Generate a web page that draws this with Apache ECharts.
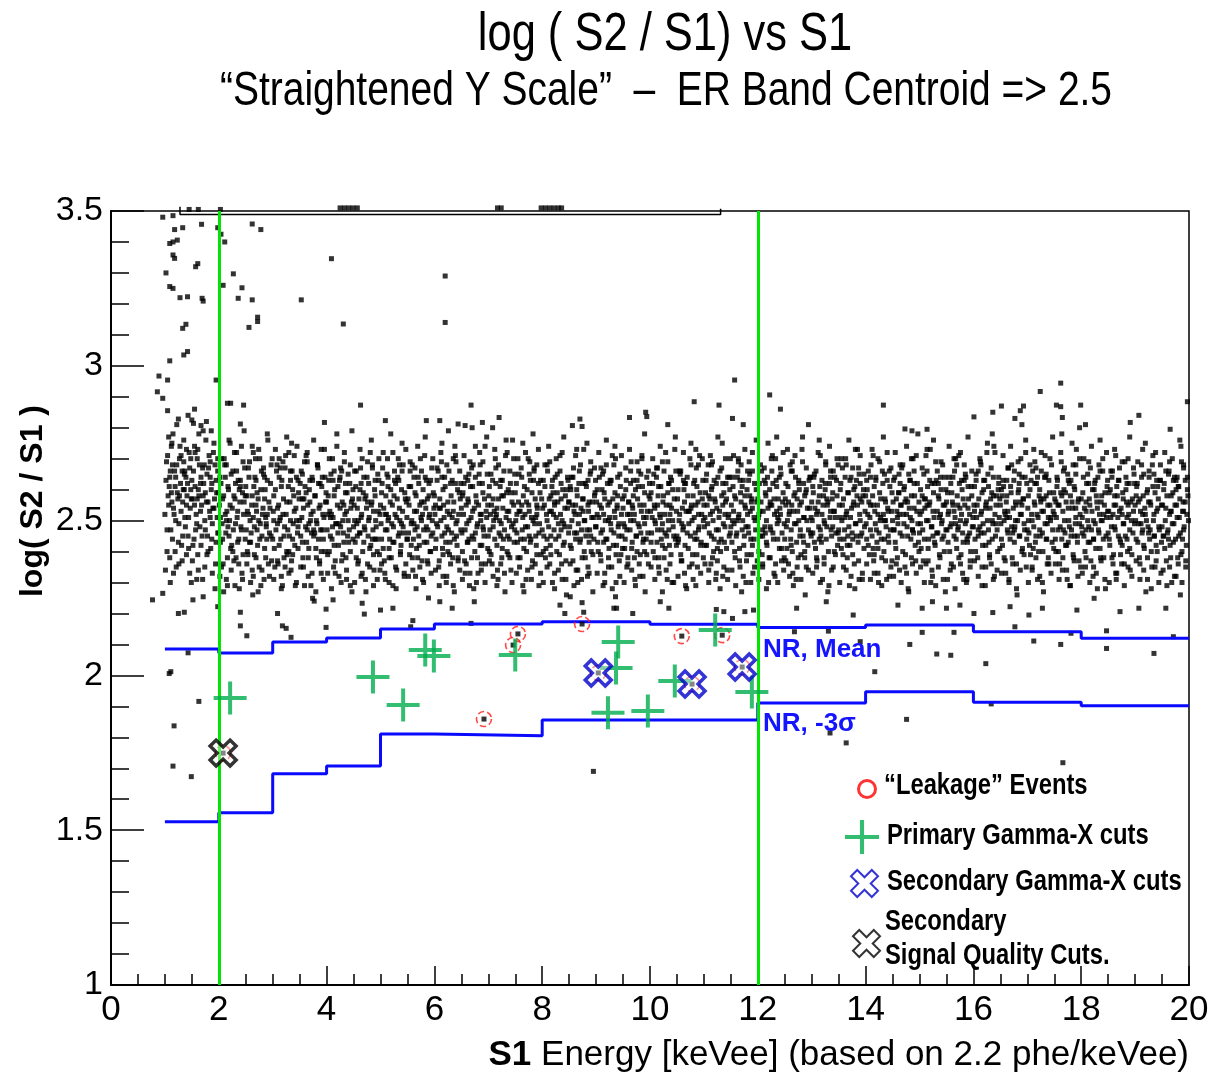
<!DOCTYPE html>
<html><head><meta charset="utf-8">
<script src="https://cdn.jsdelivr.net/npm/echarts@6/dist/echarts.min.js"></script>
<style>html,body{margin:0;padding:0;background:#fff}#c{width:1224px;height:1076px}</style>
</head><body><div id="c"></div>
<script>
const SANS = "'Liberation Sans',Arial,sans-serif";
const NARROW_SCALE = 0.82; // Arial Narrow look, made from Liberation Sans

// ---- axes ----
const xRange = [0, 20, 2];
const yRange = [1, 3.5, 0.5];
const cutX = [2, 12];

// ---- NR band step lines (bin edges + bin values) ----
const nrEdges = [1, 2, 3, 4, 5, 6, 8, 10, 12, 14, 16, 18, 20];
const nrMean = [2.085, 2.072, 2.108, 2.121, 2.150, 2.166, 2.173, 2.165, 2.155, 2.163, 2.141, 2.120];
const nrMinus3 = [1.527, 1.556, 1.682, 1.707, 1.811, 1.805, 1.856, 1.856, 1.911, 1.947, 1.913, 1.902];

// ---- special events ----
const leakage = [[6.92,1.859],[7.55,2.134],[7.46,2.098],[8.74,2.166],[10.59,2.127],[11.34,2.130],[9.04,2.008],[10.78,1.972],[11.71,2.027],[2.08,1.749]];
const primaryGX = [[2.21,1.927],[4.86,1.995],[5.42,1.904],[5.83,2.082],[5.99,2.063],[7.50,2.066],[9.41,2.108],[9.37,2.024],[9.22,1.879],[9.96,1.885],[10.46,1.982],[11.21,2.147],[11.89,1.946]];
const secondaryGX = [[9.04,2.008],[10.78,1.972],[11.71,2.027]];
const secondarySQ = [[2.08,1.749]];

// ---- legend labels ----
const legendNames = ['“Leakage” Events', 'Primary Gamma-X cuts', 'Secondary Gamma-X cuts', 'Secondary\nSignal Quality Cuts.'];

// ---- overflow at the top edge ----
const topEdge = [[1.28,3.514],[1.28,3.489],[11.31,3.489],[11.31,3.507]];
const topDots = [[1.45,3.505],[1.62,3.505],[2.03,3.505],[4.25,3.51],[4.33,3.51],[4.41,3.51],[4.49,3.51],[4.57,3.51],[7.17,3.51],[7.24,3.51],[7.98,3.51],[8.06,3.51],[8.14,3.51],[8.22,3.51],[8.30,3.51],[8.36,3.51]];

// ---- ER band events (read approximately), part 1 ----
const bandDots = [
[1.02,2.63],[1.04,2.47],[1.05,2.71],[1.07,2.55],[1.09,2.38],[1.10,2.66],[1.12,2.59],[1.14,2.44],[1.15,2.78],[1.17,2.52],[1.19,2.61],[1.21,2.35],[1.22,2.68],[1.24,2.57],[1.26,2.49],[1.28,2.74],[1.29,2.62],[1.31,2.42],[1.33,2.56],[1.35,2.69],[1.37,2.51],[1.39,2.64],[1.41,2.58],[1.43,2.45],[1.45,2.72],[1.47,2.54],[1.48,2.60],[1.06,2.58],[1.18,2.66],[1.36,2.60],
[1.51,2.57],[1.53,2.66],[1.54,2.44],[1.56,2.61],[1.58,2.52],[1.60,2.70],[1.61,2.39],[1.63,2.58],[1.65,2.48],[1.67,2.64],[1.68,2.55],[1.70,2.31],[1.72,2.62],[1.74,2.50],[1.76,2.76],[1.77,2.56],[1.79,2.45],[1.81,2.67],[1.83,2.53],[1.85,2.41],[1.86,2.60],[1.88,2.49],[1.90,2.72],[1.92,2.57],[1.94,2.36],[1.95,2.63],[1.97,2.51],[1.99,2.59],[1.57,2.47],[1.73,2.68],[1.89,2.54],
[2.01,2.55],[2.03,2.43],[2.04,2.62],[2.06,2.49],[2.08,2.36],[2.09,2.58],[2.11,2.68],[2.13,2.46],[2.15,2.53],[2.16,2.29],[2.18,2.60],[2.20,2.50],[2.22,2.41],[2.23,2.65],[2.25,2.54],[2.27,2.47],[2.29,2.72],[2.30,2.57],[2.32,2.38],[2.34,2.51],[2.36,2.63],[2.37,2.44],[2.39,2.56],[2.41,2.48],[2.43,2.33],[2.44,2.59],[2.46,2.52],[2.48,2.67],[2.12,2.52],[2.26,2.40],[2.40,2.61],
[2.51,2.47],[2.52,2.58],[2.54,2.39],[2.56,2.64],[2.58,2.50],[2.59,2.43],[2.61,2.55],[2.63,2.26],[2.65,2.61],[2.66,2.48],[2.68,2.70],[2.70,2.53],[2.72,2.42],[2.73,2.57],[2.75,2.35],[2.77,2.49],[2.79,2.66],[2.80,2.45],[2.82,2.54],[2.84,2.31],[2.86,2.60],[2.87,2.51],[2.89,2.44],[2.91,2.76],[2.93,2.56],[2.94,2.46],[2.96,2.62],[2.98,2.37],[2.55,2.52],[2.71,2.59],[2.88,2.49],
[3.01,2.53],[3.03,2.41],[3.05,2.60],[3.06,2.47],[3.08,2.68],[3.10,2.36],[3.11,2.55],[3.13,2.50],[3.15,2.44],[3.17,2.63],[3.18,2.29],[3.20,2.57],[3.22,2.48],[3.24,2.71],[3.25,2.52],[3.27,2.39],[3.29,2.61],[3.31,2.45],[3.32,2.56],[3.34,2.34],[3.36,2.66],[3.38,2.49],[3.39,2.58],[3.41,2.42],[3.43,2.54],[3.45,2.74],[3.46,2.46],[3.48,2.59],[3.14,2.51],[3.30,2.40],[3.44,2.50],
[3.51,2.62],[3.52,2.45],[3.54,2.51],[3.56,2.38],[3.58,2.57],[3.59,2.69],[3.61,2.48],[3.63,2.43],[3.65,2.55],[3.66,2.32],[3.68,2.60],[3.70,2.50],[3.72,2.46],[3.73,2.64],[3.75,2.53],[3.77,2.24],[3.79,2.58],[3.80,2.41],[3.82,2.49],[3.84,2.67],[3.86,2.54],[3.87,2.37],[3.89,2.47],[3.91,2.61],[3.93,2.52],[3.94,2.44],[3.96,2.73],[3.98,2.56],[3.62,2.59],[3.76,2.47],[3.90,2.40],
[4.01,2.47],[4.03,2.58],[4.05,2.40],[4.06,2.53],[4.08,2.65],[4.10,2.44],[4.12,2.51],[4.13,2.35],[4.15,2.60],[4.17,2.49],[4.19,2.78],[4.20,2.55],[4.22,2.42],[4.24,2.63],[4.26,2.48],[4.27,2.30],[4.29,2.56],[4.31,2.46],[4.33,2.69],[4.34,2.52],[4.36,2.38],[4.38,2.59],[4.40,2.50],[4.41,2.43],[4.43,2.62],[4.45,2.54],[4.47,2.27],[4.48,2.57],[4.09,2.52],[4.23,2.49],[4.39,2.45],
[4.51,2.55],[4.53,2.43],[4.54,2.61],[4.56,2.49],[4.58,2.36],[4.60,2.57],[4.61,2.46],[4.63,2.67],[4.65,2.52],[4.67,2.40],[4.68,2.59],[4.70,2.48],[4.72,2.31],[4.74,2.54],[4.75,2.64],[4.77,2.45],[4.79,2.51],[4.81,2.72],[4.82,2.42],[4.84,2.56],[4.86,2.47],[4.88,2.34],[4.89,2.60],[4.91,2.50],[4.93,2.44],[4.95,2.65],[4.96,2.53],[4.98,2.39],[4.59,2.50],[4.73,2.58],[4.87,2.53],
[5.01,2.49],[5.03,2.62],[5.05,2.41],[5.06,2.54],[5.08,2.33],[5.10,2.58],[5.12,2.47],[5.13,2.70],[5.15,2.51],[5.17,2.44],[5.19,2.60],[5.20,2.38],[5.22,2.55],[5.24,2.48],[5.26,2.66],[5.27,2.52],[5.29,2.28],[5.31,2.57],[5.33,2.45],[5.34,2.63],[5.36,2.50],[5.38,2.42],[5.40,2.75],[5.41,2.53],[5.43,2.46],[5.45,2.59],[5.47,2.36],[5.48,2.56],[5.11,2.52],[5.25,2.43],[5.39,2.49],
[5.51,2.57],[5.52,2.46],[5.54,2.39],[5.56,2.61],[5.58,2.50],[5.59,2.68],[5.61,2.44],[5.63,2.53],[5.65,2.32],[5.66,2.58],[5.68,2.48],[5.70,2.64],[5.72,2.42],[5.73,2.55],[5.75,2.51],[5.77,2.37],[5.79,2.60],[5.80,2.47],[5.82,2.71],[5.84,2.54],[5.86,2.43],[5.87,2.57],[5.89,2.25],[5.91,2.52],[5.93,2.63],[5.94,2.45],[5.96,2.50],[5.98,2.59],[5.62,2.49],[5.76,2.56],[5.92,2.40],
[6.01,2.52],[6.03,2.44],[6.05,2.63],[6.06,2.48],[6.08,2.35],[6.10,2.57],[6.12,2.50],[6.13,2.69],[6.15,2.41],[6.17,2.55],[6.19,2.46],[6.20,2.61],[6.22,2.30],[6.24,2.53],[6.26,2.47],[6.27,2.66],[6.29,2.43],[6.31,2.58],[6.33,2.51],[6.34,2.38],[6.36,2.56],[6.38,2.74],[6.40,2.49],[6.41,2.45],[6.43,2.60],[6.45,2.52],[6.47,2.34],[6.48,2.57],[6.11,2.54],[6.25,2.40],[6.39,2.62],
[6.51,2.46],[6.53,2.59],[6.54,2.52],[6.56,2.37],[6.58,2.64],[6.60,2.49],[6.61,2.43],[6.63,2.56],[6.65,2.29],[6.67,2.61],[6.68,2.51],[6.70,2.45],[6.72,2.68],[6.74,2.54],[6.75,2.40],[6.77,2.58],[6.79,2.48],[6.81,2.33],[6.82,2.55],[6.84,2.72],[6.86,2.50],[6.88,2.42],[6.89,2.62],[6.91,2.47],[6.93,2.57],[6.95,2.36],[6.96,2.53],[6.98,2.65],[6.59,2.55],[6.73,2.44],[6.87,2.52],
[7.01,2.58],[7.03,2.47],[7.05,2.39],[7.06,2.55],[7.08,2.63],[7.10,2.50],[7.12,2.44],[7.13,2.70],[7.15,2.52],[7.17,2.34],[7.19,2.57],[7.20,2.46],[7.22,2.61],[7.24,2.49],[7.26,2.41],[7.27,2.54],[7.29,2.66],[7.31,2.27],[7.33,2.51],[7.34,2.59],[7.36,2.45],[7.38,2.53],[7.40,2.38],[7.41,2.62],[7.43,2.48],[7.45,2.76],[7.47,2.55],[7.48,2.43],[7.11,2.53],[7.25,2.58],[7.39,2.50],
[7.51,2.50],[7.52,2.62],[7.54,2.43],[7.56,2.56],[7.58,2.35],[7.59,2.53],[7.61,2.67],[7.63,2.47],[7.65,2.58],[7.66,2.41],[7.68,2.52],[7.70,2.31],[7.72,2.60],[7.73,2.48],[7.75,2.55],[7.77,2.69],[7.79,2.44],[7.80,2.51],[7.82,2.37],[7.84,2.63],[7.86,2.49],[7.87,2.57],[7.89,2.42],[7.91,2.54],[7.93,2.73],[7.94,2.46],[7.96,2.59],[7.98,2.39],[7.62,2.55],[7.76,2.45],[7.90,2.52],
[8.01,2.54],[8.03,2.45],[8.05,2.61],[8.06,2.38],[8.08,2.52],[8.10,2.66],[8.12,2.48],[8.13,2.57],[8.15,2.42],[8.17,2.53],[8.19,2.30],[8.20,2.59],[8.22,2.47],[8.24,2.64],[8.26,2.51],[8.27,2.40],[8.29,2.56],[8.31,2.45],[8.33,2.71],[8.34,2.52],[8.36,2.36],[8.38,2.60],[8.40,2.49],[8.41,2.43],[8.43,2.58],[8.45,2.26],[8.47,2.54],[8.48,2.63],[8.09,2.44],[8.23,2.55],[8.37,2.50],
[8.51,2.48],[8.53,2.60],[8.54,2.41],[8.56,2.55],[8.58,2.67],[8.60,2.46],[8.61,2.52],[8.63,2.34],[8.65,2.58],[8.67,2.49],[8.68,2.62],[8.70,2.43],[8.72,2.54],[8.74,2.38],[8.75,2.57],[8.77,2.73],[8.79,2.50],[8.81,2.45],[8.82,2.61],[8.84,2.32],[8.86,2.53],[8.88,2.47],[8.89,2.65],[8.91,2.40],[8.93,2.56],[8.95,2.51],[8.96,2.44],[8.98,2.59],[8.59,2.53],[8.73,2.47],[8.87,2.56],
[9.01,2.56],[9.03,2.43],[9.05,2.51],[9.06,2.64],[9.08,2.39],[9.10,2.54],[9.12,2.47],[9.13,2.29],[9.15,2.59],[9.17,2.50],[9.19,2.68],[9.20,2.44],[9.22,2.55],[9.24,2.41],[9.26,2.62],[9.27,2.49],[9.29,2.35],[9.31,2.57],[9.33,2.46],[9.34,2.53],[9.36,2.70],[9.38,2.42],[9.40,2.58],[9.41,2.48],[9.43,2.37],[9.45,2.61],[9.47,2.52],[9.48,2.45],[9.11,2.60],[9.25,2.51],[9.39,2.55],
[9.51,2.49],[9.52,2.58],[9.54,2.44],[9.56,2.63],[9.58,2.52],[9.59,2.36],[9.61,2.56],[9.63,2.47],[9.65,2.69],[9.66,2.41],[9.68,2.54],[9.70,2.50],[9.72,2.31],[9.73,2.60],[9.75,2.45],[9.77,2.57],[9.79,2.66],[9.80,2.48],[9.82,2.39],[9.84,2.53],[9.86,2.61],[9.87,2.43],[9.89,2.55],[9.91,2.27],[9.93,2.51],[9.94,2.64],[9.96,2.46],[9.98,2.58],[9.62,2.52],[9.76,2.40],[9.90,2.49],
[10.01,2.53],[10.03,2.46],[10.05,2.62],[10.06,2.40],[10.08,2.55],[10.10,2.49],[10.12,2.67],[10.13,2.43],[10.15,2.58],[10.17,2.33],[10.19,2.51],[10.20,2.61],[10.22,2.47],[10.24,2.56],[10.26,2.38],[10.27,2.52],[10.29,2.72],[10.31,2.45],[10.33,2.59],[10.34,2.50],[10.36,2.42],[10.38,2.64],[10.40,2.54],[10.41,2.30],[10.43,2.48],[10.45,2.57],[10.47,2.44],[10.48,2.66],[10.09,2.50],[10.23,2.42],[10.37,2.55],
[10.51,2.57],[10.53,2.44],[10.54,2.50],[10.56,2.65],[10.58,2.37],[10.60,2.54],[10.61,2.47],[10.63,2.60],[10.65,2.42],[10.67,2.53],[10.68,2.28],[10.70,2.58],[10.72,2.49],[10.74,2.70],[10.75,2.45],[10.77,2.55],[10.79,2.39],[10.81,2.62],[10.82,2.51],[10.84,2.46],[10.86,2.67],[10.88,2.35],[10.89,2.56],[10.91,2.48],[10.93,2.59],[10.95,2.43],[10.96,2.52],[10.98,2.63],[10.59,2.49],[10.73,2.53],[10.87,2.44],
[11.01,2.48],[11.03,2.59],[11.05,2.42],[11.06,2.55],[11.08,2.68],[11.10,2.46],[11.12,2.52],[11.13,2.36],[11.15,2.61],[11.17,2.50],[11.19,2.44],[11.20,2.57],[11.22,2.31],[11.24,2.54],[11.26,2.64],[11.27,2.47],[11.29,2.53],[11.31,2.40],[11.33,2.58],[11.34,2.75],[11.36,2.49],[11.38,2.43],[11.40,2.56],[11.41,2.62],[11.43,2.34],[11.45,2.51],[11.47,2.45],[11.48,2.60],[11.11,2.57],[11.25,2.41],[11.39,2.52],
[11.51,2.55],[11.52,2.43],[11.54,2.61],[11.56,2.49],[11.58,2.38],[11.59,2.57],[11.61,2.46],[11.63,2.66],[11.65,2.52],[11.66,2.41],[11.68,2.59],[11.70,2.27],[11.72,2.50],[11.73,2.63],[11.75,2.45],[11.77,2.54],[11.79,2.37],[11.80,2.60],[11.82,2.48],[11.84,2.69],[11.86,2.53],[11.87,2.44],[11.89,2.57],[11.91,2.33],[11.93,2.51],[11.94,2.62],[11.96,2.47],[11.98,2.56],[11.62,2.50],[11.76,2.58],[11.90,2.42],
[12.01,2.51],[12.03,2.62],[12.05,2.45],[12.06,2.56],[12.08,2.39],[12.10,2.53],[12.12,2.67],[12.13,2.48],[12.15,2.58],[12.17,2.42],[12.19,2.54],[12.20,2.30],[12.22,2.60],[12.24,2.47],[12.26,2.55],[12.27,2.71],[12.29,2.44],[12.31,2.52],[12.33,2.36],[12.34,2.63],[12.36,2.49],[12.38,2.57],[12.40,2.41],[12.41,2.54],[12.43,2.65],[12.45,2.46],[12.47,2.59],[12.48,2.34],[12.09,2.47],[12.23,2.56],[12.37,2.51],
[12.51,2.57],[12.53,2.48],[12.54,2.41],[12.56,2.61],[12.58,2.52],[12.60,2.68],[12.61,2.44],[12.63,2.55],[12.65,2.33],[12.67,2.58],[12.68,2.49],[12.70,2.64],[12.72,2.43],[12.74,2.53],[12.75,2.38],[12.77,2.60],[12.79,2.47],[12.81,2.56],[12.82,2.73],[12.84,2.45],[12.86,2.51],[12.88,2.26],[12.89,2.59],[12.91,2.50],[12.93,2.42],[12.95,2.63],[12.96,2.54],[12.98,2.46],[12.59,2.53],[12.73,2.57],[12.87,2.40],
[13.01,2.50],[13.03,2.59],[13.05,2.43],[13.06,2.54],[13.08,2.66],[13.10,2.37],[13.12,2.56],[13.13,2.48],[13.15,2.61],[13.17,2.45],[13.19,2.52],[13.20,2.31],[13.22,2.58],[13.24,2.49],[13.26,2.69],[13.27,2.44],[13.29,2.55],[13.31,2.40],[13.33,2.62],[13.34,2.51],[13.36,2.47],[13.38,2.57],[13.40,2.35],[13.41,2.53],[13.43,2.64],[13.45,2.46],[13.47,2.58],[13.48,2.42],[13.11,2.53],[13.25,2.60],[13.39,2.48],
[13.51,2.55],[13.52,2.44],[13.54,2.62],[13.56,2.50],[13.58,2.39],[13.59,2.57],[13.61,2.47],[13.63,2.70],[13.65,2.53],[13.66,2.42],[13.68,2.59],[13.70,2.29],[13.72,2.51],[13.73,2.64],[13.75,2.46],[13.77,2.55],[13.79,2.36],[13.80,2.61],[13.82,2.49],[13.84,2.58],[13.86,2.43],[13.87,2.67],[13.89,2.52],[13.91,2.45],[13.93,2.56],[13.94,2.33],[13.96,2.60],[13.98,2.48],[13.62,2.51],[13.76,2.44],[13.90,2.57],
[14.01,2.49],[14.03,2.60],[14.05,2.42],[14.06,2.56],[14.08,2.51],[14.10,2.68],[14.12,2.45],[14.13,2.58],[14.15,2.37],[14.17,2.53],[14.19,2.63],[14.20,2.47],[14.22,2.55],[14.24,2.30],[14.26,2.59],[14.27,2.50],[14.29,2.44],[14.31,2.66],[14.33,2.52],[14.34,2.40],[14.36,2.57],[14.38,2.48],[14.40,2.72],[14.41,2.54],[14.43,2.43],[14.45,2.61],[14.47,2.35],[14.48,2.53],[14.09,2.55],[14.23,2.41],[14.37,2.50],
[14.51,2.56],[14.53,2.47],[14.54,2.64],[14.56,2.41],[14.58,2.53],[14.60,2.49],[14.61,2.59],[14.63,2.34],[14.65,2.55],[14.67,2.67],[14.68,2.45],[14.70,2.52],[14.72,2.61],[14.74,2.39],[14.75,2.57],[14.77,2.48],[14.79,2.28],[14.81,2.54],[14.82,2.63],[14.84,2.44],[14.86,2.50],[14.88,2.70],[14.89,2.46],[14.91,2.58],[14.93,2.37],[14.95,2.53],[14.96,2.62],[14.98,2.43],[14.59,2.51],[14.73,2.56],[14.87,2.47],
[15.01,2.52],[15.03,2.41],[15.05,2.58],[15.06,2.47],[15.08,2.65],[15.10,2.54],[15.12,2.36],[15.13,2.50],[15.15,2.61],[15.17,2.44],[15.19,2.56],[15.20,2.73],[15.22,2.48],[15.24,2.32],[15.26,2.59],[15.27,2.51],[15.29,2.42],[15.31,2.63],[15.33,2.53],[15.34,2.46],[15.36,2.57],[15.38,2.38],[15.40,2.60],[15.41,2.49],[15.43,2.68],[15.45,2.45],[15.47,2.55],[15.48,2.27],[15.11,2.57],[15.25,2.45],[15.39,2.52],
[15.51,2.47],[15.52,2.59],[15.54,2.53],[15.56,2.40],[15.58,2.62],[15.59,2.49],[15.61,2.56],[15.63,2.35],[15.65,2.66],[15.66,2.51],[15.68,2.44],[15.70,2.58],[15.72,2.48],[15.73,2.71],[15.75,2.54],[15.77,2.39],[15.79,2.60],[15.80,2.46],[15.82,2.31],[15.84,2.55],[15.86,2.64],[15.87,2.50],[15.89,2.43],[15.91,2.57],[15.93,2.52],[15.94,2.37],[15.96,2.61],[15.98,2.48],[15.62,2.55],[15.76,2.50],[15.90,2.45],
[16.01,2.55],[16.03,2.44],[16.05,2.63],[16.06,2.51],[16.08,2.38],[16.10,2.57],[16.12,2.48],[16.13,2.69],[16.15,2.53],[16.17,2.42],[16.19,2.60],[16.20,2.46],[16.22,2.29],[16.24,2.56],[16.26,2.50],[16.27,2.65],[16.29,2.43],[16.31,2.54],[16.33,2.36],[16.34,2.59],[16.36,2.49],[16.38,2.74],[16.40,2.52],[16.41,2.45],[16.43,2.58],[16.45,2.40],[16.47,2.62],[16.48,2.51],[16.09,2.47],[16.23,2.55],[16.37,2.58],
[16.51,2.49],[16.53,2.58],[16.54,2.42],[16.56,2.61],[16.58,2.53],[16.60,2.33],[16.61,2.56],[16.63,2.47],[16.65,2.67],[16.67,2.51],[16.68,2.44],[16.70,2.59],[16.72,2.38],[16.74,2.54],[16.75,2.63],[16.77,2.48],[16.79,2.55],[16.81,2.26],[16.82,2.50],[16.84,2.60],[16.86,2.45],[16.88,2.70],[16.89,2.52],[16.91,2.41],[16.93,2.57],[16.95,2.47],[16.96,2.64],[16.98,2.35],[16.59,2.52],[16.73,2.46],[16.87,2.56],
[17.01,2.54],[17.03,2.46],[17.05,2.60],[17.06,2.39],[17.08,2.52],[17.10,2.66],[17.12,2.48],[17.13,2.56],[17.15,2.43],[17.17,2.62],[17.19,2.31],[17.20,2.51],[17.22,2.58],[17.24,2.45],[17.26,2.72],[17.27,2.53],[17.29,2.40],[17.31,2.57],[17.33,2.49],[17.34,2.64],[17.36,2.44],[17.38,2.55],[17.40,2.36],[17.41,2.59],[17.43,2.50],[17.45,2.68],[17.47,2.47],[17.48,2.53],[17.11,2.41],[17.25,2.57],[17.39,2.51],
[17.51,2.57],[17.52,2.44],[17.54,2.51],[17.56,2.63],[17.58,2.40],[17.59,2.55],[17.61,2.48],[17.63,2.69],[17.65,2.34],[17.66,2.53],[17.68,2.60],[17.70,2.46],[17.72,2.56],[17.73,2.42],[17.75,2.65],[17.77,2.50],[17.79,2.29],[17.80,2.58],[17.82,2.47],[17.84,2.54],[17.86,2.38],[17.87,2.61],[17.89,2.49],[17.91,2.73],[17.93,2.45],[17.94,2.56],[17.96,2.37],[17.98,2.52],[17.62,2.59],[17.76,2.43],[17.90,2.54],
[18.01,2.48],[18.03,2.59],[18.05,2.45],[18.06,2.54],[18.08,2.35],[18.10,2.62],[18.12,2.50],[18.13,2.43],[18.15,2.57],[18.17,2.67],[18.19,2.47],[18.20,2.53],[18.22,2.32],[18.24,2.60],[18.26,2.49],[18.27,2.41],[18.29,2.56],[18.31,2.64],[18.33,2.46],[18.34,2.52],[18.36,2.38],[18.38,2.58],[18.40,2.70],[18.41,2.44],[18.43,2.55],[18.45,2.28],[18.47,2.51],[18.48,2.61],[18.09,2.56],[18.23,2.44],[18.37,2.50],
[18.51,2.53],[18.53,2.42],[18.54,2.60],[18.56,2.48],[18.58,2.66],[18.60,2.39],[18.61,2.55],[18.63,2.47],[18.65,2.31],[18.67,2.58],[18.68,2.51],[18.70,2.63],[18.72,2.44],[18.74,2.54],[18.75,2.36],[18.77,2.59],[18.79,2.49],[18.81,2.69],[18.82,2.45],[18.84,2.56],[18.86,2.40],[18.88,2.52],[18.89,2.62],[18.91,2.34],[18.93,2.50],[18.95,2.57],[18.96,2.46],[18.98,2.65],[18.59,2.52],[18.73,2.43],[18.87,2.55],
[19.01,2.50],[19.03,2.61],[19.05,2.43],[19.06,2.56],[19.08,2.38],[19.10,2.53],[19.12,2.68],[19.13,2.46],[19.15,2.58],[19.17,2.41],[19.19,2.52],[19.20,2.27],[19.22,2.59],[19.24,2.48],[19.26,2.64],[19.27,2.44],[19.29,2.55],[19.31,2.35],[19.33,2.61],[19.34,2.50],[19.36,2.45],[19.38,2.72],[19.40,2.53],[19.41,2.40],[19.43,2.57],[19.45,2.47],[19.47,2.63],[19.48,2.33],[19.11,2.49],[19.25,2.56],[19.39,2.42],
[19.51,2.55],[19.52,2.45],[19.54,2.62],[19.56,2.50],[19.58,2.37],[19.59,2.58],[19.61,2.47],[19.63,2.66],[19.65,2.42],[19.66,2.53],[19.68,2.30],[19.70,2.59],[19.72,2.49],[19.73,2.64],[19.75,2.44],[19.77,2.55],[19.79,2.38],[19.80,2.61],[19.82,2.51],[19.84,2.46],[19.86,2.69],[19.87,2.40],[19.89,2.56],[19.91,2.48],[19.93,2.63],[19.94,2.35],[19.96,2.52],[19.98,2.58],[19.62,2.44],[19.76,2.60],[19.90,2.53]
];

// ---- ER band events, part 2 ----
const bandDots2 = [
[1.00,2.52],[1.03,2.69],[1.04,2.40],[1.08,2.61],[1.11,2.47],[1.13,2.75],[1.13,2.56],[1.16,2.33],[1.20,2.64],[1.20,2.50],[1.23,2.59],[1.25,2.43],[1.27,2.70],[1.30,2.53],[1.32,2.66],[1.32,2.37],[1.34,2.60],[1.38,2.48],[1.40,2.73],[1.40,2.55],[1.42,2.62],[1.44,2.41],[1.46,2.67],[1.49,2.57],[1.49,2.30],[1.27,2.58],[1.09,2.64],[1.16,2.54],[1.36,2.65],[1.44,2.51],
[1.50,2.63],[1.52,2.42],[1.55,2.55],[1.55,2.74],[1.59,2.49],[1.62,2.60],[1.62,2.34],[1.64,2.68],[1.66,2.53],[1.69,2.45],[1.71,2.58],[1.71,2.79],[1.75,2.47],[1.78,2.65],[1.78,2.39],[1.80,2.56],[1.82,2.71],[1.84,2.51],[1.87,2.44],[1.87,2.62],[1.91,2.54],[1.93,2.68],[1.93,2.28],[1.96,2.59],[1.98,2.46],[1.60,2.57],[1.66,2.62],[1.75,2.59],[1.84,2.64],[1.98,2.70],
[2.00,2.46],[2.02,2.64],[2.05,2.35],[2.07,2.57],[2.07,2.44],[2.10,2.70],[2.14,2.50],[2.14,2.31],[2.17,2.61],[2.19,2.45],[2.21,2.55],[2.21,2.75],[2.24,2.42],[2.28,2.58],[2.28,2.37],[2.31,2.49],[2.33,2.66],[2.35,2.53],[2.38,2.28],[2.38,2.60],[2.42,2.47],[2.45,2.69],[2.45,2.39],[2.47,2.56],[2.49,2.44],[2.03,2.51],[2.17,2.48],[2.31,2.62],[2.35,2.43],[2.49,2.58],
[2.50,2.61],[2.53,2.40],[2.53,2.53],[2.57,2.69],[2.60,2.46],[2.62,2.34],[2.62,2.58],[2.64,2.51],[2.67,2.64],[2.69,2.38],[2.69,2.55],[2.71,2.47],[2.74,2.73],[2.76,2.44],[2.78,2.60],[2.78,2.29],[2.81,2.52],[2.83,2.67],[2.85,2.41],[2.85,2.57],[2.88,2.48],[2.90,2.63],[2.92,2.36],[2.95,2.54],[2.97,2.45],[2.99,2.70],[2.57,2.43],[2.74,2.50],[2.90,2.52],[2.64,2.32],
[3.00,2.44],[3.02,2.58],[3.04,2.35],[3.07,2.66],[3.09,2.49],[3.09,2.54],[3.12,2.42],[3.16,2.61],[3.16,2.32],[3.19,2.52],[3.21,2.45],[3.23,2.67],[3.26,2.56],[3.26,2.40],[3.28,2.47],[3.30,2.72],[3.33,2.50],[3.35,2.37],[3.37,2.60],[3.37,2.44],[3.40,2.53],[3.42,2.29],[3.44,2.64],[3.47,2.48],[3.49,2.57],[3.02,2.50],[3.12,2.70],[3.21,2.38],[3.33,2.63],[3.47,2.41],
[3.50,2.50],[3.53,2.66],[3.55,2.43],[3.57,2.54],[3.57,2.35],[3.60,2.61],[3.64,2.47],[3.64,2.72],[3.67,2.41],[3.69,2.56],[3.71,2.29],[3.71,2.52],[3.74,2.63],[3.76,2.45],[3.78,2.58],[3.81,2.38],[3.81,2.50],[3.83,2.68],[3.85,2.44],[3.88,2.55],[3.90,2.33],[3.92,2.47],[3.92,2.64],[3.95,2.51],[3.97,2.40],[3.99,2.59],[3.55,2.57],[3.67,2.49],[3.78,2.46],[3.88,2.62],
[4.00,2.56],[4.02,2.39],[4.04,2.63],[4.07,2.45],[4.07,2.51],[4.11,2.70],[4.14,2.42],[4.14,2.58],[4.16,2.33],[4.18,2.49],[4.21,2.61],[4.21,2.46],[4.25,2.54],[4.28,2.37],[4.28,2.66],[4.30,2.50],[4.32,2.43],[4.35,2.59],[4.37,2.31],[4.37,2.53],[4.42,2.47],[4.44,2.68],[4.44,2.40],[4.46,2.56],[4.49,2.44],[4.02,2.52],[4.11,2.48],[4.25,2.64],[4.32,2.55],[4.49,2.60],
[4.50,2.48],[4.52,2.66],[4.55,2.38],[4.57,2.54],[4.57,2.45],[4.62,2.60],[4.64,2.32],[4.64,2.51],[4.66,2.70],[4.69,2.43],[4.71,2.57],[4.71,2.47],[4.76,2.36],[4.78,2.62],[4.78,2.50],[4.80,2.41],[4.83,2.55],[4.85,2.68],[4.85,2.44],[4.87,2.29],[4.90,2.58],[4.92,2.48],[4.94,2.40],[4.97,2.63],[4.99,2.52],[4.52,2.50],[4.62,2.46],[4.76,2.56],[4.90,2.44],[4.99,2.34],
[5.00,2.55],[5.02,2.44],[5.04,2.67],[5.07,2.37],[5.09,2.52],[5.09,2.47],[5.14,2.61],[5.16,2.41],[5.16,2.30],[5.18,2.56],[5.21,2.49],[5.23,2.72],[5.23,2.43],[5.25,2.58],[5.28,2.35],[5.30,2.51],[5.32,2.64],[5.35,2.46],[5.35,2.54],[5.37,2.39],[5.39,2.60],[5.42,2.48],[5.44,2.33],[5.46,2.57],[5.49,2.44],[5.02,2.59],[5.14,2.50],[5.28,2.62],[5.42,2.68],[5.49,2.51],
[5.50,2.44],[5.53,2.55],[5.55,2.66],[5.57,2.42],[5.57,2.49],[5.60,2.34],[5.64,2.59],[5.64,2.47],[5.67,2.53],[5.69,2.38],[5.71,2.62],[5.71,2.45],[5.74,2.70],[5.76,2.50],[5.78,2.31],[5.81,2.56],[5.81,2.43],[5.83,2.64],[5.85,2.48],[5.88,2.36],[5.90,2.58],[5.90,2.51],[5.93,2.40],[5.95,2.67],[5.97,2.46],[5.99,2.54],[5.53,2.61],[5.67,2.41],[5.78,2.52],[5.88,2.47],
[6.00,2.58],[6.02,2.41],[6.04,2.49],[6.07,2.66],[6.09,2.37],[6.09,2.54],[6.14,2.45],[6.16,2.60],[6.16,2.32],[6.18,2.51],[6.21,2.43],[6.23,2.68],[6.23,2.48],[6.25,2.56],[6.28,2.39],[6.30,2.62],[6.32,2.46],[6.35,2.29],[6.35,2.53],[6.37,2.44],[6.39,2.71],[6.42,2.50],[6.44,2.37],[6.46,2.59],[6.49,2.47],[6.02,2.55],[6.14,2.64],[6.28,2.52],[6.42,2.42],[6.49,2.62],
[6.50,2.54],[6.52,2.40],[6.55,2.62],[6.57,2.47],[6.57,2.33],[6.62,2.57],[6.64,2.50],[6.64,2.44],[6.66,2.69],[6.69,2.38],[6.71,2.53],[6.71,2.61],[6.76,2.46],[6.78,2.30],[6.78,2.56],[6.80,2.49],[6.83,2.65],[6.85,2.42],[6.85,2.52],[6.87,2.36],[6.90,2.59],[6.92,2.45],[6.94,2.74],[6.97,2.51],[6.99,2.41],[6.52,2.58],[6.62,2.43],[6.76,2.64],[6.90,2.48],[6.99,2.55],
[7.00,2.45],[7.02,2.61],[7.04,2.52],[7.07,2.36],[7.09,2.57],[7.09,2.48],[7.14,2.67],[7.16,2.42],[7.16,2.54],[7.18,2.31],[7.21,2.50],[7.23,2.63],[7.23,2.45],[7.25,2.38],[7.28,2.58],[7.30,2.47],[7.32,2.71],[7.35,2.53],[7.35,2.40],[7.37,2.60],[7.39,2.44],[7.42,2.34],[7.44,2.56],[7.46,2.49],[7.49,2.65],[7.02,2.40],[7.14,2.51],[7.28,2.44],[7.42,2.59],[7.49,2.47],
[7.50,2.59],[7.53,2.46],[7.55,2.38],[7.57,2.53],[7.57,2.65],[7.60,2.44],[7.64,2.51],[7.64,2.29],[7.67,2.61],[7.69,2.48],[7.71,2.56],[7.71,2.40],[7.74,2.70],[7.76,2.53],[7.78,2.43],[7.81,2.59],[7.81,2.35],[7.83,2.50],[7.85,2.66],[7.88,2.45],[7.90,2.55],[7.90,2.39],[7.93,2.62],[7.95,2.49],[7.97,2.33],[7.99,2.57],[7.53,2.52],[7.67,2.44],[7.78,2.63],[7.88,2.51],
[8.00,2.47],[8.02,2.63],[8.04,2.55],[8.07,2.41],[8.09,2.68],[8.09,2.50],[8.14,2.36],[8.16,2.58],[8.16,2.45],[8.18,2.61],[8.21,2.52],[8.23,2.33],[8.23,2.56],[8.25,2.44],[8.28,2.65],[8.30,2.49],[8.32,2.39],[8.35,2.57],[8.35,2.47],[8.37,2.72],[8.39,2.42],[8.42,2.54],[8.44,2.31],[8.46,2.60],[8.49,2.46],[8.02,2.40],[8.14,2.53],[8.28,2.59],[8.42,2.48],[8.49,2.56],
[8.50,2.56],[8.52,2.42],[8.55,2.50],[8.57,2.64],[8.57,2.37],[8.62,2.55],[8.64,2.46],[8.64,2.60],[8.66,2.30],[8.69,2.52],[8.71,2.68],[8.71,2.44],[8.76,2.57],[8.78,2.40],[8.78,2.50],[8.80,2.62],[8.83,2.47],[8.85,2.35],[8.85,2.55],[8.87,2.43],[8.90,2.66],[8.92,2.51],[8.94,2.39],[8.97,2.58],[8.99,2.48],[8.52,2.61],[8.62,2.44],[8.76,2.53],[8.90,2.45],[8.99,2.63],
[9.00,2.48],[9.02,2.60],[9.04,2.40],[9.07,2.55],[9.09,2.46],[9.09,2.67],[9.14,2.52],[9.16,2.33],[9.16,2.57],[9.18,2.44],[9.21,2.62],[9.23,2.50],[9.23,2.38],[9.25,2.56],[9.28,2.47],[9.30,2.71],[9.32,2.42],[9.35,2.59],[9.35,2.51],[9.37,2.30],[9.39,2.54],[9.42,2.45],[9.44,2.65],[9.46,2.39],[9.49,2.57],[9.02,2.52],[9.14,2.43],[9.28,2.63],[9.42,2.49],[9.49,2.41],
[9.50,2.54],[9.53,2.41],[9.55,2.60],[9.57,2.47],[9.57,2.35],[9.60,2.56],[9.64,2.50],[9.64,2.66],[9.67,2.43],[9.69,2.58],[9.71,2.38],[9.71,2.52],[9.74,2.45],[9.76,2.63],[9.78,2.49],[9.81,2.32],[9.81,2.55],[9.83,2.46],[9.85,2.70],[9.88,2.51],[9.90,2.40],[9.90,2.59],[9.93,2.44],[9.95,2.53],[9.97,2.36],[9.99,2.62],[9.53,2.48],[9.67,2.55],[9.78,2.61],[9.88,2.44],
[10.00,2.57],[10.02,2.43],[10.04,2.51],[10.07,2.65],[10.09,2.38],[10.09,2.54],[10.14,2.47],[10.16,2.61],[10.16,2.35],[10.18,2.52],[10.21,2.44],[10.23,2.69],[10.23,2.49],[10.25,2.58],[10.28,2.41],[10.30,2.55],[10.32,2.31],[10.35,2.62],[10.35,2.47],[10.37,2.52],[10.39,2.39],[10.42,2.60],[10.44,2.45],[10.46,2.73],[10.49,2.53],[10.02,2.59],[10.14,2.55],[10.28,2.46],[10.42,2.50],[10.49,2.42],
[10.50,2.45],[10.52,2.60],[10.55,2.52],[10.57,2.39],[10.57,2.66],[10.62,2.48],[10.64,2.56],[10.64,2.33],[10.66,2.62],[10.69,2.46],[10.71,2.53],[10.71,2.41],[10.76,2.68],[10.78,2.50],[10.78,2.36],[10.80,2.58],[10.83,2.44],[10.85,2.55],[10.85,2.29],[10.87,2.61],[10.90,2.47],[10.92,2.71],[10.94,2.42],[10.97,2.57],[10.99,2.50],[10.52,2.43],[10.62,2.63],[10.76,2.54],[10.90,2.52],[10.99,2.38],
[11.00,2.55],[11.02,2.42],[11.04,2.63],[11.07,2.49],[11.09,2.34],[11.09,2.58],[11.14,2.45],[11.16,2.53],[11.16,2.69],[11.18,2.40],[11.21,2.56],[11.23,2.47],[11.23,2.62],[11.25,2.37],[11.28,2.51],[11.30,2.66],[11.32,2.44],[11.35,2.55],[11.35,2.32],[11.37,2.59],[11.39,2.48],[11.42,2.41],[11.44,2.64],[11.46,2.52],[11.49,2.46],[11.02,2.51],[11.14,2.60],[11.28,2.43],[11.42,2.57],[11.49,2.70],
[11.50,2.48],[11.53,2.64],[11.55,2.53],[11.57,2.40],[11.57,2.58],[11.60,2.45],[11.64,2.69],[11.64,2.51],[11.67,2.35],[11.69,2.56],[11.71,2.47],[11.71,2.61],[11.74,2.42],[11.76,2.55],[11.78,2.30],[11.81,2.52],[11.81,2.66],[11.83,2.46],[11.85,2.58],[11.88,2.39],[11.90,2.54],[11.90,2.72],[11.93,2.44],[11.95,2.50],[11.97,2.60],[11.99,2.37],[11.53,2.50],[11.67,2.63],[11.78,2.48],[11.88,2.56],
[12.00,2.57],[12.02,2.40],[12.04,2.53],[12.07,2.66],[12.09,2.45],[12.09,2.35],[12.14,2.59],[12.16,2.50],[12.16,2.43],[12.18,2.64],[12.21,2.38],[12.23,2.55],[12.23,2.48],[12.25,2.70],[12.28,2.46],[12.30,2.57],[12.32,2.32],[12.35,2.53],[12.35,2.61],[12.37,2.44],[12.39,2.50],[12.42,2.67],[12.44,2.41],[12.46,2.56],[12.49,2.49],[12.02,2.52],[12.14,2.46],[12.28,2.62],[12.42,2.52],[12.49,2.38],
[12.50,2.44],[12.52,2.62],[12.55,2.50],[12.57,2.36],[12.57,2.56],[12.62,2.47],[12.64,2.66],[12.64,2.40],[12.66,2.53],[12.69,2.59],[12.71,2.31],[12.71,2.49],[12.76,2.62],[12.78,2.45],[12.78,2.55],[12.80,2.39],[12.83,2.69],[12.85,2.51],[12.85,2.43],[12.87,2.58],[12.90,2.35],[12.92,2.54],[12.94,2.47],[12.97,2.64],[12.99,2.51],[12.52,2.55],[12.62,2.42],[12.76,2.50],[12.90,2.60],[12.99,2.45],
[13.00,2.56],[13.02,2.46],[13.04,2.64],[13.07,2.41],[13.09,2.52],[13.09,2.35],[13.14,2.58],[13.16,2.47],[13.16,2.71],[13.18,2.43],[13.21,2.55],[13.23,2.50],[13.23,2.38],[13.25,2.62],[13.28,2.48],[13.30,2.56],[13.32,2.29],[13.35,2.53],[13.35,2.66],[13.37,2.45],[13.39,2.59],[13.42,2.40],[13.44,2.51],[13.46,2.63],[13.49,2.46],[13.02,2.61],[13.14,2.44],[13.28,2.57],[13.42,2.53],[13.49,2.68],
[13.50,2.47],[13.53,2.60],[13.55,2.41],[13.57,2.55],[13.57,2.67],[13.60,2.44],[13.64,2.52],[13.64,2.34],[13.67,2.59],[13.69,2.48],[13.71,2.63],[13.71,2.42],[13.74,2.54],[13.76,2.39],[13.78,2.60],[13.81,2.49],[13.81,2.73],[13.83,2.45],[13.85,2.55],[13.88,2.31],[13.90,2.50],[13.90,2.62],[13.93,2.46],[13.95,2.58],[13.97,2.41],[13.99,2.53],[13.53,2.51],[13.67,2.45],[13.78,2.56],[13.88,2.65],
[14.00,2.58],[14.02,2.44],[14.04,2.52],[14.07,2.39],[14.09,2.64],[14.09,2.47],[14.14,2.55],[14.16,2.33],[14.16,2.61],[14.18,2.49],[14.21,2.43],[14.23,2.70],[14.23,2.52],[14.25,2.46],[14.28,2.57],[14.30,2.38],[14.32,2.62],[14.35,2.50],[14.35,2.44],[14.37,2.56],[14.39,2.31],[14.42,2.53],[14.44,2.66],[14.46,2.47],[14.49,2.59],[14.02,2.63],[14.14,2.41],[14.28,2.51],[14.42,2.45],[14.49,2.37],
[14.50,2.50],[14.52,2.63],[14.55,2.43],[14.57,2.57],[14.57,2.36],[14.62,2.52],[14.64,2.68],[14.64,2.46],[14.66,2.55],[14.69,2.40],[14.71,2.60],[14.71,2.49],[14.76,2.33],[14.78,2.56],[14.78,2.45],[14.80,2.65],[14.83,2.51],[14.85,2.38],[14.85,2.58],[14.87,2.47],[14.90,2.54],[14.92,2.42],[14.94,2.71],[14.97,2.49],[14.99,2.56],[14.52,2.47],[14.62,2.59],[14.76,2.52],[14.90,2.62],[14.99,2.40],
[15.00,2.46],[15.02,2.60],[15.04,2.53],[15.07,2.37],[15.09,2.57],[15.09,2.44],[15.14,2.66],[15.16,2.50],[15.16,2.41],[15.18,2.55],[15.21,2.30],[15.23,2.62],[15.23,2.48],[15.25,2.53],[15.28,2.43],[15.30,2.69],[15.32,2.46],[15.35,2.58],[15.35,2.35],[15.37,2.51],[15.39,2.64],[15.42,2.44],[15.44,2.55],[15.46,2.40],[15.49,2.60],[15.02,2.49],[15.14,2.55],[15.28,2.62],[15.42,2.50],[15.49,2.47],
[15.50,2.56],[15.53,2.43],[15.55,2.64],[15.57,2.48],[15.57,2.34],[15.60,2.59],[15.64,2.45],[15.64,2.53],[15.67,2.70],[15.69,2.41],[15.71,2.55],[15.71,2.47],[15.74,2.62],[15.76,2.36],[15.78,2.52],[15.81,2.57],[15.81,2.43],[15.83,2.68],[15.85,2.49],[15.88,2.31],[15.90,2.54],[15.90,2.61],[15.93,2.46],[15.95,2.40],[15.97,2.58],[15.99,2.51],[15.53,2.52],[15.67,2.49],[15.78,2.63],[15.88,2.44],
[16.00,2.48],[16.02,2.61],[16.04,2.40],[16.07,2.55],[16.09,2.66],[16.09,2.45],[16.14,2.52],[16.16,2.35],[16.16,2.59],[16.18,2.49],[16.21,2.63],[16.23,2.42],[16.23,2.54],[16.25,2.72],[16.28,2.47],[16.30,2.38],[16.32,2.57],[16.35,2.50],[16.35,2.44],[16.37,2.64],[16.39,2.32],[16.42,2.55],[16.44,2.47],[16.46,2.60],[16.49,2.41],[16.02,2.53],[16.14,2.46],[16.28,2.61],[16.42,2.49],[16.49,2.57],
[16.50,2.55],[16.52,2.44],[16.55,2.63],[16.57,2.50],[16.57,2.38],[16.62,2.58],[16.64,2.46],[16.64,2.53],[16.66,2.31],[16.69,2.61],[16.71,2.48],[16.71,2.68],[16.76,2.43],[16.78,2.56],[16.78,2.50],[16.80,2.36],[16.83,2.59],[16.85,2.45],[16.85,2.65],[16.87,2.52],[16.90,2.40],[16.92,2.57],[16.94,2.49],[16.97,2.72],[16.99,2.44],[16.52,2.60],[16.62,2.51],[16.76,2.47],[16.90,2.55],[16.99,2.62],
[17.00,2.47],[17.02,2.58],[17.04,2.42],[17.07,2.63],[17.09,2.50],[17.09,2.34],[17.14,2.55],[17.16,2.45],[17.16,2.67],[17.18,2.52],[17.21,2.40],[17.23,2.60],[17.23,2.47],[17.25,2.56],[17.28,2.30],[17.30,2.53],[17.32,2.64],[17.35,2.44],[17.35,2.58],[17.37,2.49],[17.39,2.38],[17.42,2.70],[17.44,2.51],[17.46,2.43],[17.49,2.59],[17.02,2.50],[17.14,2.62],[17.28,2.46],[17.42,2.55],[17.49,2.41],
[17.50,2.52],[17.53,2.40],[17.55,2.61],[17.57,2.47],[17.57,2.55],[17.60,2.36],[17.64,2.58],[17.64,2.44],[17.67,2.66],[17.69,2.50],[17.71,2.42],[17.71,2.59],[17.74,2.31],[17.76,2.54],[17.78,2.48],[17.81,2.63],[17.81,2.45],[17.83,2.56],[17.85,2.39],[17.88,2.60],[17.90,2.51],[17.90,2.68],[17.93,2.43],[17.95,2.57],[17.97,2.49],[17.99,2.35],[17.53,2.56],[17.67,2.47],[17.78,2.62],[17.88,2.45],
[18.00,2.57],[18.02,2.46],[18.04,2.64],[18.07,2.40],[18.09,2.53],[18.09,2.47],[18.14,2.69],[18.16,2.43],[18.16,2.55],[18.18,2.37],[18.21,2.60],[18.23,2.50],[18.23,2.44],[18.25,2.62],[18.28,2.33],[18.30,2.54],[18.32,2.47],[18.35,2.66],[18.35,2.41],[18.37,2.56],[18.39,2.50],[18.42,2.38],[18.44,2.59],[18.46,2.45],[18.49,2.53],[18.02,2.51],[18.14,2.48],[18.28,2.58],[18.42,2.52],[18.49,2.63],
[18.50,2.46],[18.52,2.59],[18.55,2.51],[18.57,2.38],[18.57,2.64],[18.62,2.48],[18.64,2.55],[18.64,2.33],[18.66,2.61],[18.69,2.45],[18.71,2.53],[18.71,2.67],[18.76,2.42],[18.78,2.57],[18.78,2.49],[18.80,2.36],[18.83,2.60],[18.85,2.51],[18.85,2.44],[18.87,2.70],[18.90,2.47],[18.92,2.56],[18.94,2.39],[18.97,2.53],[18.99,2.62],[18.52,2.44],[18.62,2.58],[18.76,2.52],[18.90,2.41],[18.99,2.49],
[19.00,2.55],[19.02,2.44],[19.04,2.62],[19.07,2.49],[19.09,2.36],[19.09,2.57],[19.14,2.47],[19.16,2.65],[19.16,2.42],[19.18,2.54],[19.21,2.50],[19.23,2.31],[19.23,2.60],[19.25,2.46],[19.28,2.56],[19.30,2.40],[19.32,2.68],[19.35,2.52],[19.35,2.45],[19.37,2.59],[19.39,2.37],[19.42,2.54],[19.44,2.48],[19.46,2.63],[19.49,2.43],[19.02,2.58],[19.14,2.52],[19.28,2.47],[19.42,2.61],[19.49,2.55],
[19.50,2.48],[19.53,2.60],[19.55,2.41],[19.57,2.54],[19.57,2.66],[19.60,2.46],[19.64,2.52],[19.64,2.35],[19.67,2.58],[19.69,2.49],[19.71,2.63],[19.71,2.43],[19.74,2.55],[19.76,2.32],[19.78,2.51],[19.81,2.61],[19.81,2.45],[19.83,2.57],[19.85,2.39],[19.88,2.53],[19.90,2.68],[19.90,2.47],[19.93,2.56],[19.95,2.42],[19.97,2.60],[19.99,2.50],[19.53,2.45],[19.67,2.53],[19.78,2.64],[19.88,2.44]
];

// ---- ER band events, part 3 (band edges) ----
const bandEdgeDots = [
[1.01,2.34],[1.07,2.77],[1.10,2.30],[1.14,2.68],[1.19,2.40],[1.22,2.81],[1.26,2.36],[1.30,2.71],[1.33,2.45],[1.37,2.66],[1.40,2.39],[1.43,2.84],[1.46,2.33],[1.48,2.70],[1.12,2.74],[1.35,2.76],
[1.51,2.37],[1.56,2.72],[1.59,2.31],[1.63,2.78],[1.67,2.42],[1.70,2.67],[1.74,2.35],[1.77,2.82],[1.80,2.40],[1.84,2.69],[1.88,2.33],[1.91,2.75],[1.95,2.43],[1.98,2.66],[1.61,2.73],[1.86,2.79],
[2.02,2.32],[2.05,2.70],[2.09,2.27],[2.12,2.64],[2.16,2.38],[2.19,2.76],[2.23,2.34],[2.26,2.66],[2.30,2.29],[2.33,2.72],[2.37,2.36],[2.40,2.63],[2.44,2.31],[2.47,2.79],[2.14,2.68],[2.42,2.74],
[2.52,2.36],[2.55,2.67],[2.59,2.30],[2.62,2.74],[2.66,2.39],[2.69,2.63],[2.73,2.27],[2.76,2.70],[2.80,2.34],[2.83,2.65],[2.87,2.38],[2.90,2.78],[2.94,2.32],[2.97,2.68],[2.64,2.72],[2.85,2.64],
[3.02,2.31],[3.05,2.73],[3.09,2.37],[3.12,2.64],[3.16,2.28],[3.19,2.69],[3.23,2.35],[3.26,2.77],[3.30,2.33],[3.33,2.66],[3.37,2.39],[3.40,2.71],[3.44,2.30],[3.47,2.63],[3.14,2.67],[3.35,2.75],
[3.52,2.35],[3.55,2.65],[3.59,2.29],[3.62,2.71],[3.66,2.38],[3.69,2.63],[3.73,2.33],[3.76,2.76],[3.80,2.27],[3.83,2.68],[3.87,2.36],[3.90,2.73],[3.94,2.31],[3.97,2.64],[3.64,2.69],[3.85,2.62],
[4.02,2.33],[4.05,2.70],[4.09,2.28],[4.12,2.63],[4.16,2.37],[4.19,2.74],[4.23,2.32],[4.26,2.67],[4.30,2.39],[4.33,2.72],[4.37,2.34],[4.40,2.65],[4.44,2.29],[4.47,2.79],[4.14,2.66],[4.35,2.62],
[4.52,2.30],[4.55,2.66],[4.59,2.37],[4.62,2.73],[4.66,2.33],[4.69,2.64],[4.73,2.27],[4.76,2.69],[4.80,2.35],[4.83,2.76],[4.87,2.39],[4.90,2.63],[4.94,2.31],[4.97,2.70],[4.64,2.62],[4.85,2.67],
[5.02,2.36],[5.05,2.72],[5.09,2.31],[5.12,2.65],[5.16,2.38],[5.19,2.78],[5.23,2.29],[5.26,2.63],[5.30,2.34],[5.33,2.70],[5.37,2.40],[5.40,2.66],[5.44,2.32],[5.47,2.73],[5.14,2.64],[5.35,2.68],
[5.52,2.32],[5.55,2.69],[5.59,2.38],[5.62,2.64],[5.66,2.28],[5.69,2.74],[5.73,2.35],[5.76,2.66],[5.80,2.30],[5.83,2.77],[5.87,2.37],[5.90,2.62],[5.94,2.33],[5.97,2.70],[5.64,2.67],[5.85,2.63],
[6.02,2.34],[6.05,2.67],[6.09,2.29],[6.12,2.72],[6.16,2.39],[6.19,2.64],[6.23,2.32],[6.26,2.79],[6.30,2.36],[6.33,2.63],[6.37,2.27],[6.40,2.69],[6.44,2.38],[6.47,2.66],[6.14,2.75],[6.35,2.70],
[6.52,2.31],[6.55,2.71],[6.59,2.36],[6.62,2.63],[6.66,2.33],[6.69,2.67],[6.73,2.28],[6.76,2.74],[6.80,2.38],[6.83,2.62],[6.87,2.34],[6.90,2.69],[6.94,2.30],[6.97,2.77],[6.64,2.65],[6.85,2.68],
[7.02,2.37],[7.05,2.65],[7.09,2.32],[7.12,2.73],[7.16,2.29],[7.19,2.68],[7.23,2.36],[7.26,2.63],[7.30,2.33],[7.33,2.76],[7.37,2.39],[7.40,2.66],[7.44,2.30],[7.47,2.70],[7.14,2.62],[7.35,2.72],
[7.52,2.33],[7.55,2.70],[7.59,2.38],[7.62,2.64],[7.66,2.27],[7.69,2.72],[7.73,2.34],[7.76,2.65],[7.80,2.31],[7.83,2.78],[7.87,2.36],[7.90,2.68],[7.94,2.29],[7.97,2.63],[7.64,2.75],[7.85,2.67],
[8.02,2.30],[8.05,2.68],[8.09,2.35],[8.12,2.74],[8.16,2.39],[8.19,2.63],[8.23,2.28],[8.26,2.70],[8.30,2.34],[8.33,2.66],[8.37,2.31],[8.40,2.77],[8.44,2.37],[8.47,2.64],[8.14,2.69],[8.35,2.62],
[8.52,2.36],[8.55,2.64],[8.59,2.29],[8.62,2.71],[8.66,2.34],[8.69,2.66],[8.73,2.31],[8.76,2.62],[8.80,2.38],[8.83,2.75],[8.87,2.33],[8.90,2.69],[8.94,2.27],[8.97,2.67],[8.64,2.73],[8.85,2.63],
[9.02,2.33],[9.05,2.72],[9.09,2.37],[9.12,2.65],[9.16,2.30],[9.19,2.76],[9.23,2.35],[9.26,2.63],[9.30,2.28],[9.33,2.68],[9.37,2.39],[9.40,2.64],[9.44,2.32],[9.47,2.71],[9.14,2.66],[9.35,2.74],
[9.52,2.30],[9.55,2.67],[9.59,2.38],[9.62,2.73],[9.66,2.34],[9.69,2.63],[9.73,2.29],[9.76,2.69],[9.80,2.36],[9.83,2.65],[9.87,2.32],[9.90,2.78],[9.94,2.39],[9.97,2.66],[9.64,2.62],[9.85,2.71],
[10.02,2.35],[10.05,2.70],[10.09,2.31],[10.12,2.64],[10.16,2.38],[10.19,2.74],[10.23,2.27],[10.26,2.66],[10.30,2.34],[10.33,2.69],[10.37,2.36],[10.40,2.63],[10.44,2.30],[10.47,2.77],[10.14,2.67],[10.35,2.62],
[10.52,2.32],[10.55,2.66],[10.59,2.37],[10.62,2.72],[10.66,2.29],[10.69,2.64],[10.73,2.35],[10.76,2.75],[10.80,2.31],[10.83,2.63],[10.87,2.39],[10.90,2.68],[10.94,2.33],[10.97,2.70],[10.64,2.62],[10.85,2.73],
[11.02,2.36],[11.05,2.65],[11.09,2.30],[11.12,2.71],[11.16,2.38],[11.19,2.63],[11.23,2.33],[11.26,2.77],[11.30,2.28],[11.33,2.67],[11.37,2.35],[11.40,2.70],[11.44,2.31],[11.47,2.64],[11.14,2.68],[11.35,2.62],
[11.52,2.34],[11.55,2.71],[11.59,2.29],[11.62,2.64],[11.66,2.37],[11.69,2.68],[11.73,2.32],[11.76,2.73],[11.80,2.39],[11.83,2.63],[11.87,2.30],[11.90,2.66],[11.94,2.35],[11.97,2.76],[11.64,2.70],[11.85,2.65],
[12.02,2.31],[12.05,2.68],[12.09,2.36],[12.12,2.63],[12.16,2.28],[12.19,2.75],[12.23,2.38],[12.26,2.66],[12.30,2.33],[12.33,2.70],[12.37,2.30],[12.40,2.64],[12.44,2.37],[12.47,2.72],[12.14,2.62],[12.35,2.77],
[12.52,2.37],[12.55,2.73],[12.59,2.32],[12.62,2.66],[12.66,2.29],[12.69,2.71],[12.73,2.35],[12.76,2.63],[12.80,2.31],[12.83,2.77],[12.87,2.38],[12.90,2.67],[12.94,2.34],[12.97,2.64],[12.64,2.69],[12.85,2.62],
[13.02,2.33],[13.05,2.65],[13.09,2.38],[13.12,2.72],[13.16,2.30],[13.19,2.63],[13.23,2.36],[13.26,2.68],[13.30,2.27],[13.33,2.74],[13.37,2.34],[13.40,2.66],[13.44,2.39],[13.47,2.70],[13.14,2.76],[13.35,2.64],
[13.52,2.30],[13.55,2.70],[13.59,2.35],[13.62,2.64],[13.66,2.38],[13.69,2.76],[13.73,2.32],[13.76,2.67],[13.80,2.28],[13.83,2.63],[13.87,2.37],[13.90,2.71],[13.94,2.31],[13.97,2.65],[13.64,2.68],[13.85,2.73],
[14.02,2.36],[14.05,2.66],[14.09,2.31],[14.12,2.73],[14.16,2.39],[14.19,2.64],[14.23,2.33],[14.26,2.69],[14.30,2.29],[14.33,2.77],[14.37,2.37],[14.40,2.63],[14.44,2.32],[14.47,2.67],[14.14,2.71],[14.35,2.65],
[14.52,2.32],[14.55,2.72],[14.59,2.38],[14.62,2.65],[14.66,2.30],[14.69,2.68],[14.73,2.35],[14.76,2.74],[14.80,2.27],[14.83,2.63],[14.87,2.36],[14.90,2.66],[14.94,2.33],[14.97,2.78],[14.64,2.62],[14.85,2.70],
[15.02,2.35],[15.05,2.67],[15.09,2.30],[15.12,2.71],[15.16,2.37],[15.19,2.63],[15.23,2.34],[15.26,2.76],[15.30,2.29],[15.33,2.66],[15.37,2.39],[15.40,2.69],[15.44,2.31],[15.47,2.64],[15.14,2.73],[15.35,2.62],
[15.52,2.31],[15.55,2.74],[15.59,2.36],[15.62,2.64],[15.66,2.28],[15.69,2.68],[15.73,2.38],[15.76,2.72],[15.80,2.33],[15.83,2.63],[15.87,2.30],[15.90,2.77],[15.94,2.35],[15.97,2.66],[15.64,2.70],[15.85,2.65],
[16.02,2.37],[16.05,2.65],[16.09,2.32],[16.12,2.70],[16.16,2.29],[16.19,2.63],[16.23,2.35],[16.26,2.75],[16.30,2.39],[16.33,2.67],[16.37,2.31],[16.40,2.72],[16.44,2.34],[16.47,2.64],[16.14,2.68],[16.35,2.78],
[16.52,2.33],[16.55,2.71],[16.59,2.37],[16.62,2.63],[16.66,2.30],[16.69,2.74],[16.73,2.36],[16.76,2.66],[16.80,2.28],[16.83,2.69],[16.87,2.34],[16.90,2.64],[16.94,2.39],[16.97,2.76],[16.64,2.67],[16.85,2.62],
[17.02,2.30],[17.05,2.68],[17.09,2.35],[17.12,2.73],[17.16,2.38],[17.19,2.64],[17.23,2.32],[17.26,2.66],[17.30,2.27],[17.33,2.71],[17.37,2.36],[17.40,2.63],[17.44,2.33],[17.47,2.77],[17.14,2.69],[17.35,2.65],
[17.52,2.36],[17.55,2.64],[17.59,2.31],[17.62,2.72],[17.66,2.38],[17.69,2.67],[17.73,2.34],[17.76,2.63],[17.80,2.29],[17.83,2.75],[17.87,2.37],[17.90,2.65],[17.94,2.32],[17.97,2.70],[17.64,2.78],[17.85,2.68],
[18.02,2.33],[18.05,2.70],[18.09,2.38],[18.12,2.65],[18.16,2.30],[18.19,2.74],[18.23,2.35],[18.26,2.63],[18.30,2.28],[18.33,2.68],[18.37,2.37],[18.40,2.66],[18.44,2.31],[18.47,2.72],[18.14,2.62],[18.35,2.76],
[18.52,2.30],[18.55,2.66],[18.59,2.36],[18.62,2.73],[18.66,2.33],[18.69,2.63],[18.73,2.39],[18.76,2.69],[18.80,2.29],[18.83,2.64],[18.87,2.35],[18.90,2.77],[18.94,2.32],[18.97,2.67],[18.64,2.71],[18.85,2.62],
[19.02,2.37],[19.05,2.69],[19.09,2.31],[19.12,2.64],[19.16,2.34],[19.19,2.75],[19.23,2.38],[19.26,2.66],[19.30,2.28],[19.33,2.71],[19.37,2.35],[19.40,2.63],[19.44,2.30],[19.47,2.68],[19.14,2.73],[19.35,2.65],
[19.52,2.34],[19.55,2.72],[19.59,2.29],[19.62,2.65],[19.66,2.38],[19.69,2.70],[19.73,2.32],[19.76,2.63],[19.80,2.36],[19.83,2.76],[19.87,2.30],[19.90,2.67],[19.94,2.37],[19.97,2.64],[19.64,2.69],[19.85,2.74]
];

// ---- isolated events above / below the band ----
const outlierDots = [
[0.96,3.48],[1.15,3.485],[1.33,3.446],[1.18,3.44],[1.68,3.457],[2.62,3.458],[2.78,3.44],[1.98,3.446],[2.04,3.425],[2.11,3.40],[1.09,3.395],[1.15,3.40],[1.23,3.406],[1.15,3.358],[1.18,3.347],[4.09,3.346],[1.57,3.32],[1.61,3.33],[1.02,3.30],[2.27,3.297],[6.20,3.29],[1.09,3.256],[1.15,3.25],[2.08,3.26],[2.43,3.252],[1.28,3.22],[1.42,3.223],[1.69,3.218],[1.71,3.209],[2.36,3.218],[2.62,3.213],[3.53,3.213],[2.56,3.124],[2.72,3.157],[2.72,3.143],[4.31,3.135],[6.20,3.14],[1.33,3.121],[1.39,3.134],[1.35,3.035],[1.42,3.046],[1.09,3.016],[0.89,2.967],[1.05,2.954],[1.95,2.954],[0.86,2.916],[0.96,2.895],[1.05,2.855],[1.55,2.86],[2.16,2.879],[2.22,2.879],[2.46,2.873],[4.63,2.873],[6.68,2.873],
[1.25,2.828],[1.50,2.825],[1.53,2.814],[1.67,2.807],[2.40,2.812],[3.96,2.817],[5.09,2.823],[5.85,2.823],[6.10,2.823],[6.89,2.817],[7.20,2.833],[6.44,2.812],[6.57,2.807],[6.70,2.80],[7.08,2.80],[8.56,2.807],[8.70,2.828],[8.74,2.804],[9.62,2.833],[9.92,2.85],[9.94,2.836],
[11.57,2.954],[12.22,2.906],[10.82,2.884],[11.28,2.873],[12.42,2.86],[14.33,2.873],[11.53,2.83],[11.73,2.81],[10.33,2.81],[17.24,2.917],[17.62,2.944],[16.52,2.87],[16.36,2.85],[16.93,2.87],[16.87,2.855],[16.01,2.835],[16.77,2.83],[16.90,2.81],[17.54,2.873],[17.62,2.868],[17.99,2.873],[17.65,2.833],[18.08,2.81],[17.97,2.80],[18.91,2.817],[19.07,2.84],[19.65,2.795],[12.94,2.81],[14.73,2.796],[14.86,2.79],[15.14,2.795],[19.97,2.884],
[0.77,2.244],[0.96,2.265],[1.52,2.244],[1.71,2.254],[1.25,2.20],[1.36,2.204],[1.98,2.222],[2.40,2.204],[2.40,2.16],[2.52,2.128],[3.09,2.20],[3.18,2.16],[3.25,2.152],[3.34,2.123],[3.74,2.249],[3.99,2.214],[3.99,2.155],[4.12,2.244],[4.66,2.233],[4.70,2.198],[5.00,2.211],[5.23,2.217],[5.60,2.177],[6.10,2.238],[6.33,2.217],[6.74,2.238],[8.33,2.227],[8.42,2.20],[8.52,2.254],[8.77,2.204],[8.74,2.235],[9.33,2.217],[9.38,2.217],[9.68,2.20],[9.36,2.254],[6.68,2.168],[5.56,2.157],
[10.19,2.238],[10.35,2.217],[11.23,2.213],[11.37,2.206],[11.53,2.184],[11.76,2.206],[11.92,2.211],[12.72,2.217],[13.27,2.238],[13.77,2.195],[14.60,2.227],[15.05,2.217],[15.24,2.238],[15.50,2.217],[15.75,2.227],[16.01,2.20],[16.36,2.203],[16.68,2.222],[17.03,2.195],[17.28,2.217],[17.92,2.211],[18.24,2.249],[18.72,2.206],[19.07,2.217],[19.57,2.217],[19.84,2.26],
[15.05,2.139],[15.64,2.139],[12.68,2.141],[13.31,2.143],[14.82,2.10],[16.77,2.157],[17.12,2.111],[17.62,2.10],[18.47,2.144],[18.47,2.087],[19.71,2.125],[17.81,2.136],[15.32,2.069],[14.17,2.012],[13.9,2.109],[14.76,1.858],[13.34,1.814],[13.64,1.782],[15.58,2.065],[16.23,2.038],[19.35,2.071],[17.66,1.718],[16.33,1.908],
[1.43,2.073],[1.08,2.006],[1.11,2.012],[1.63,1.916],[1.17,1.837],[1.15,1.707],[1.49,1.673],[8.95,1.69]
];

const stepData = (edges, vals) => edges.map((e, i) => [e, vals[Math.min(i, vals.length - 1)]]);

const PLUS = 'path://M14.5,0h4v14.5h14.5v4h-14.5v14.5h-4v-14.5h-14.5v-4h14.5z';
const XMARK = 'path://M0,6L6,0L13,7L20,0L26,6L19,13L26,20L20,26L13,19L6,26L0,20L7,13Z';
const DOT = 5;

function narrowText(text, x, y, size, opts) {
  return Object.assign({type: 'text', x: x, y: y, scaleX: NARROW_SCALE, z: 10,
    style: Object.assign({text: text, fontFamily: SANS, fontSize: size, fill: '#000', align: 'left', verticalAlign: 'middle'}, (opts && opts.style) || {})},
    (opts && opts.el) || {});
}
const legendLabel = (text, x, y) => narrowText(text, x, y, 29, {style: {fontWeight: 'bold'}});
const noText = () => '';
const dotSeries = (name, data, extra) => Object.assign({name: name, type: 'scatter', symbol: 'rect', symbolSize: DOT, itemStyle: {color: '#000'}, data: data, z: 2, silent: true}, extra || {});

const chart = echarts.init(document.getElementById('c'), null, {renderer: 'canvas'});
chart.setOption({
  animation: false,
  backgroundColor: '#fff',
  grid: {left: 111, right: 35, top: 211, bottom: 91, show: true, borderColor: '#000', borderWidth: 1.5, backgroundColor: 'transparent', outerBoundsMode: 'none', containLabel: false},
  xAxis: {
    type: 'value', min: xRange[0], max: xRange[1], interval: xRange[2],
    name: '{b|S1} Energy [keVee] (based on 2.2 phe/keVee)',
    nameLocation: 'end', nameGap: 0, nameMoveOverlap: false,
    nameTextStyle: {fontFamily: SANS, fontSize: 35, color: '#000', align: 'right', verticalAlign: 'top', padding: [53, 0, 0, 0],
      rich: {b: {fontFamily: SANS, fontSize: 35, fontWeight: 'bold', color: '#000'}}},
    axisLine: {show: true, onZero: false, lineStyle: {color: '#000', width: 2}},
    axisTick: {show: true, inside: true, length: 19, lineStyle: {color: '#000', width: 1.5}},
    minorTick: {show: true, splitNumber: 4, length: 11, lineStyle: {color: '#000', width: 1.5}},
    splitLine: {show: false}, minorSplitLine: {show: false},
    axisLabel: {fontFamily: SANS, fontSize: 35, color: '#000', margin: 8}
  },
  yAxis: {
    type: 'value', min: yRange[0], max: yRange[1], interval: yRange[2],
    name: 'log( S2 / S1 )', nameLocation: 'middle', nameGap: 62, nameRotate: 90, nameMoveOverlap: false,
    nameTextStyle: {fontFamily: SANS, fontSize: 32, fontWeight: 'bold', color: '#000', padding: [0, 0, 0, 194]},
    axisLine: {show: true, onZero: false, lineStyle: {color: '#000', width: 2}},
    axisTick: {show: true, inside: true, length: 33, lineStyle: {color: '#000', width: 1.5}},
    minorTick: {show: true, splitNumber: 5, length: 18, lineStyle: {color: '#000', width: 1.5}},
    splitLine: {show: false}, minorSplitLine: {show: false},
    axisLabel: {fontFamily: SANS, fontSize: 34, color: '#000', margin: 8}
  },
  legend: [
    {data: [{name: legendNames[0], itemStyle: {color: 'rgba(0,0,0,0)', borderColor: '#ff0000', borderWidth: 3, borderType: 'solid'}}],
      formatter: noText, left: 857, top: 779, padding: 0, itemWidth: 17, itemHeight: 17, selectedMode: false},
    {data: [legendNames[1]], formatter: noText, left: 845, top: 820, padding: 0, itemWidth: 34, itemHeight: 34, selectedMode: false},
    {data: [legendNames[2]], formatter: noText, left: 850, top: 869, padding: 0, itemWidth: 27, itemHeight: 27, selectedMode: false},
    {data: [legendNames[3]], formatter: noText, left: 852, top: 929, padding: 0, itemWidth: 27, itemHeight: 27, selectedMode: false}
  ],
  graphic: [
    narrowText('log ( S2 / S1) vs S1', 665, 35, 53, {style: {align: 'center'}}),
    narrowText('“Straightened Y Scale”  –  ER Band Centroid => 2.5', 666, 92, 47.5, {style: {align: 'center'}}),
    legendLabel(legendNames[0], 884, 786),
    legendLabel(legendNames[1], 887, 836),
    legendLabel(legendNames[2], 887, 882),
    legendLabel('Secondary', 885, 922),
    legendLabel('Signal Quality Cuts.', 885, 956),
    {type: 'text', x: 763, y: 650, z: 10, style: {text: 'NR, Mean', fontFamily: SANS, fontWeight: 'bold', fontSize: 26, fill: '#1414ff', align: 'left', verticalAlign: 'middle'}},
    {type: 'text', x: 763, y: 724, z: 10, style: {text: 'NR, -3σ', fontFamily: SANS, fontWeight: 'bold', fontSize: 26, fill: '#1414ff', align: 'left', verticalAlign: 'middle'}}
  ],
  series: [
    {name: 'cuts', type: 'line', data: [], z: 1, markLine: {silent: true, symbol: ['none', 'none'], label: {show: false},
      lineStyle: {color: '#00e600', width: 3, type: 'solid'}, data: cutX.map(v => ({xAxis: v}))}},
    dotSeries('ER band', bandDots),
    dotSeries('ER band 2', bandDots2),
    dotSeries('ER band edges', bandEdgeDots),
    dotSeries('outliers', outlierDots),
    dotSeries('overflow', topDots, {clip: false}),
    {name: 'overflowEdge', type: 'line', data: topEdge, symbol: 'none', clip: false, lineStyle: {color: '#000', width: 1.5}, z: 2, silent: true},
    {name: 'NR Mean', type: 'line', step: 'end', data: stepData(nrEdges, nrMean), symbol: 'none', lineStyle: {color: '#0a0aff', width: 3}, z: 3, silent: true},
    {name: 'NR -3sigma', type: 'line', step: 'end', data: stepData(nrEdges, nrMinus3), symbol: 'none', lineStyle: {color: '#0a0aff', width: 3}, z: 3, silent: true},
    {name: legendNames[0], type: 'scatter', symbol: 'circle', symbolSize: 15, data: leakage, z: 4,
      itemStyle: {color: 'rgba(0,0,0,0)', borderColor: '#ff1a1a', borderWidth: 1.6, borderType: 'dashed'}},
    dotSeries('leakageCore', leakage, {z: 4}),
    {name: legendNames[1], type: 'scatter', symbol: PLUS, symbolSize: 33, data: primaryGX, z: 5, itemStyle: {color: '#00ac4e'}},
    {name: legendNames[2], type: 'scatter', symbol: XMARK, symbolSize: 26, data: secondaryGX, z: 6,
      itemStyle: {color: 'rgba(255,255,255,0.5)', borderColor: '#0000cc', borderWidth: 3.5}},
    {name: legendNames[3], type: 'scatter', symbol: XMARK, symbolSize: 26, data: secondarySQ, z: 6,
      itemStyle: {color: 'rgba(255,255,255,0.5)', borderColor: '#000', borderWidth: 3.5}}
  ]
});
</script>
</body></html>
